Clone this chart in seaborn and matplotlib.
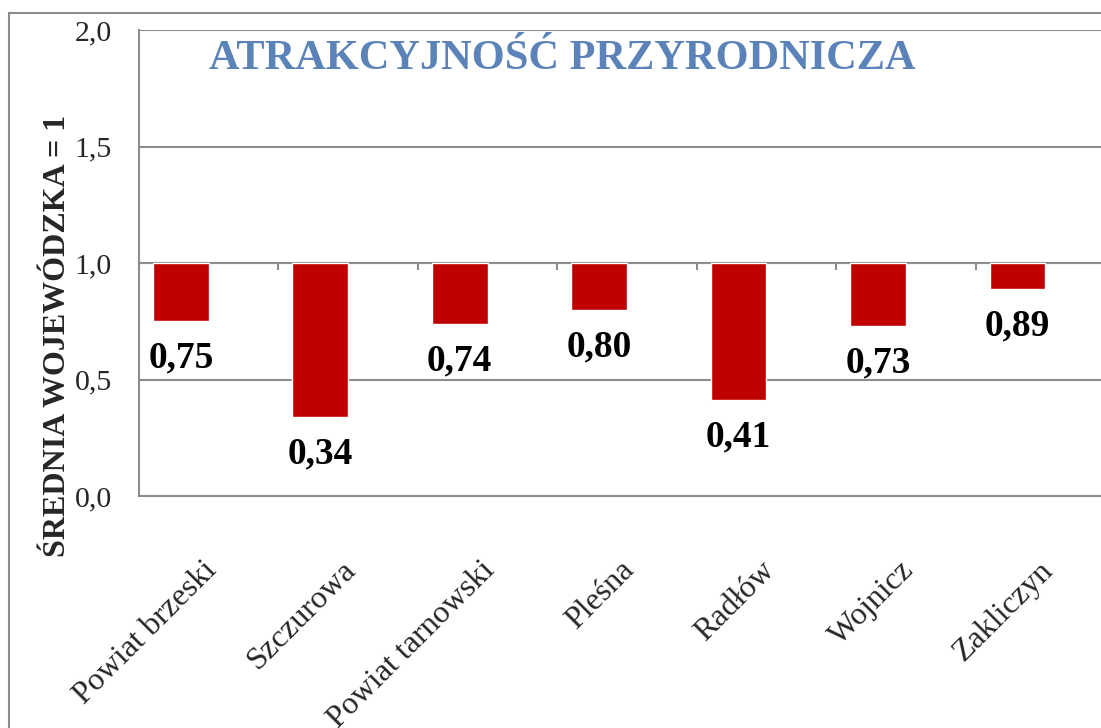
import numpy as np
import pandas as pd
import seaborn as sns
import matplotlib.pyplot as plt
from matplotlib.patches import Rectangle
from matplotlib.ticker import FuncFormatter

# Data (index, voivodeship average = 1)
categories = ['Powiat brzeski', 'Szczurowa', 'Powiat tarnowski', 'Pleśna',
              'Radłów', 'Wojnicz', 'Zakliczyn']
values = [0.75, 0.34, 0.74, 0.80, 0.41, 0.73, 0.89]
baseline = 1.0

df = pd.DataFrame({'gmina': categories, 'diff': [v - baseline for v in values]})

sns.set_style('white')
plt.rcParams['font.family'] = ['Liberation Serif', 'DejaVu Serif']

grey = '#8C8C8C'
red = '#C00000'
n = len(categories)

fig = plt.figure(figsize=(11.01, 7.28), dpi=100)
ax = fig.add_axes([139 / 1101, 1 - 496 / 728, (1115 - 139) / 1101, (496 - 30) / 728])

# Bars hang down from the average line
sns.barplot(data=df, x='gmina', y='diff', bottom=baseline, color=red,
            saturation=1, width=0.4, errorbar=None, ax=ax)

ax.set_xlim(-0.3, n - 0.3)
ax.set_ylim(0, 2)
ax.set_yticks(np.arange(0, 2.01, 0.5))
ax.yaxis.set_major_formatter(FuncFormatter(lambda v, p: f'{v:.1f}'.replace('.', ',')))
ax.set_axisbelow(True)
ax.yaxis.grid(True, color=grey, linewidth=1.5)
ax.xaxis.grid(False)

for s in ['top', 'right']:
    ax.spines[s].set_visible(False)
for s in ['left', 'bottom']:
    ax.spines[s].set_color(grey)
    ax.spines[s].set_linewidth(1.5)

ax.tick_params(axis='y', length=6.5, width=1.5, color=grey, labelsize=21.5, pad=13)
ax.set_xticks(np.arange(n) + 0.15)
ax.set_xticklabels(categories, fontsize=23, rotation=45, ha='right',
                   rotation_mode='anchor')
ax.tick_params(axis='x', length=0, pad=43)
ax.set_xlabel('')
ax.set_ylabel('ŚREDNIA WOJEWÓDZKA = 1', fontsize=23, fontweight='bold')
ax.yaxis.set_label_coords(-0.069, 0.343)

# Category axis crossing at 1.0 with ticks between categories
secax = ax.secondary_xaxis(0.5)
secax.set_alignment('bottom')
secax.set_xticks(np.arange(n + 1) - 0.3, labels=[''] * (n + 1))
secax.tick_params(length=5, width=1.5, color=grey)
secax.spines['bottom'].set_color(grey)
secax.spines['bottom'].set_linewidth(1.5)

# Value labels under bars
for i, v in enumerate(values):
    ax.annotate(f'{v:.2f}'.replace('.', ','), xy=(i, v), xytext=(0, -14),
                textcoords='offset points', ha='center', va='top',
                fontsize=27, fontweight='bold', color='black')

fig.text(562 / 1101, 1 - 59 / 728, 'ATRAKCYJNOŚĆ PRZYRODNICZA', ha='center',
         va='center', fontsize=30.5, fontweight='bold', color='#5B83B9')

# Outer chart frame
fig.patches.append(Rectangle((9 / 1101, -0.1), 1.2, 1.1 - 13 / 728,
                             transform=fig.transFigure, fill=False,
                             edgecolor=grey, linewidth=1.5))

fig.savefig('out.png', dpi=100)
